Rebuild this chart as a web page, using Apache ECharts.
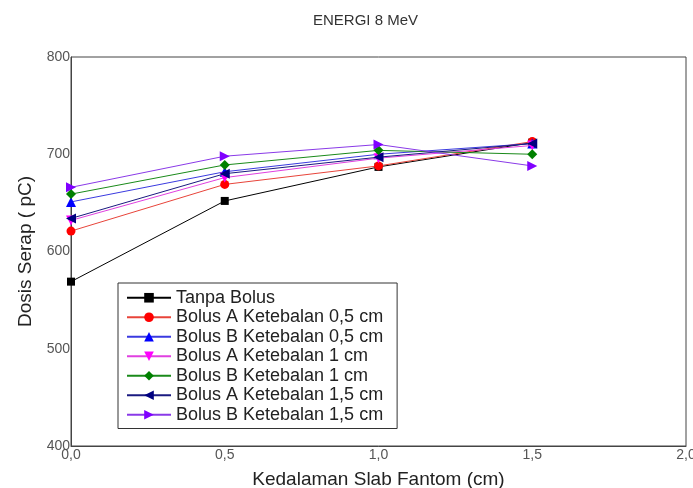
<!DOCTYPE html>
<html>
<head>
<meta charset="utf-8">
<script src="https://cdn.jsdelivr.net/npm/echarts@6/dist/echarts.min.js"></script>
<style>html,body{margin:0;padding:0;background:#fff}#c{width:693px;height:488px}</style>
</head>
<body>
<div id="c"></div>
<script>
var depths = [0, 0.5, 1.0, 1.5];
var seriesNames = [
  'Tanpa Bolus',
  'Bolus A Ketebalan 0,5 cm',
  'Bolus B Ketebalan 0,5 cm',
  'Bolus A Ketebalan 1 cm',
  'Bolus B Ketebalan 1 cm',
  'Bolus A Ketebalan 1,5 cm',
  'Bolus B Ketebalan 1,5 cm'
];
var tanpaBolus = [569, 652, 687, 712];
var bolusA05 = [621, 669, 688, 713];
var bolusB05 = [651, 682, 700, 711];
var bolusA1 = [632, 676, 696, 709];
var bolusB1 = [659, 689, 704, 700];
var bolusA15 = [634, 680, 697, 711];
var bolusB15 = [666, 698, 710, 688];
var allValues = [tanpaBolus, bolusA05, bolusB05, bolusA1, bolusB1, bolusA15, bolusB15];

var colors = ['#000000', '#ff0000', '#0000ff', '#ff00ff', '#008000', '#000080', '#8000ff'];
var lineColors = ['#000000', '#e8443a', '#3a3ae0', '#e040e0', '#1a8a1a', '#1a1a80', '#8a3ae8'];
var symbols = ['rect', 'circle', 'triangle', 'triangle', 'diamond', 'triangle', 'triangle'];
var rotations = [0, 0, 0, 180, 0, 90, -90];
var sizes = [8, 9, 10, 10, 10, 10, 10];

var series = seriesNames.map(function (n, i) {
  return {
    name: n,
    type: 'line',
    data: depths.map(function (d, j) { return [d, allValues[i][j]]; }),
    symbol: symbols[i],
    symbolRotate: rotations[i],
    symbolSize: sizes[i],
    lineStyle: { color: lineColors[i], width: 1 },
    itemStyle: { color: colors[i] },
    z: 2 + i
  };
});

var chart = echarts.init(document.getElementById('c'), null, { renderer: 'canvas' });
chart.setOption({
  animation: false,
  backgroundColor: '#ffffff',
  title: {
    text: 'ENERGI 8 MeV',
    left: 308, top: 8,
    textStyle: { fontFamily: 'Liberation Sans', fontSize: 15, fontWeight: 'normal', color: '#333' }
  },
  grid: { left: 71, right: 7, top: 57, bottom: 42, show: true, borderColor: '#444', borderWidth: 1,
          containLabel: false, outerBoundsMode: 'none' },
  legend: {
    orient: 'vertical', left: 118, top: 283,
    itemWidth: 44, itemHeight: 12, itemGap: 0,
    padding: [5, 14, 4, 8],
    borderColor: '#333', borderWidth: 1,
    textStyle: { fontFamily: 'Liberation Sans', fontSize: 18, color: '#222', lineHeight: 19.5 },
    data: seriesNames
  },
  xAxis: {
    type: 'value', min: 0, max: 2, interval: 0.5,
    name: 'Kedalaman Slab Fantom (cm)', nameLocation: 'middle', nameGap: 24,
    nameTextStyle: { fontFamily: 'Liberation Sans', fontSize: 19, color: '#222' },
    axisLine: { show: true, lineStyle: { color: '#444', width: 1 } },
    axisTick: { show: false },
    splitLine: { show: false },
    axisLabel: {
      margin: 2, fontFamily: 'Liberation Sans', fontSize: 14, color: '#555',
      formatter: function (v) { return v.toFixed(1).replace('.', ','); }
    }
  },
  yAxis: {
    type: 'value', min: 400, max: 800, interval: 100,
    name: 'Dosis Serap ( pC)', nameLocation: 'middle', nameGap: 28,
    nameTextStyle: { fontFamily: 'Liberation Sans', fontSize: 19, color: '#222' },
    axisLine: { show: true, lineStyle: { color: '#444', width: 1 } },
    axisTick: { show: false },
    splitLine: { show: false },
    axisLabel: {
      margin: 1, fontFamily: 'Liberation Sans', fontSize: 14, color: '#555', padding: [0, 0, 6, 0]
    }
  },
  series: series
});
</script>
</body>
</html>
